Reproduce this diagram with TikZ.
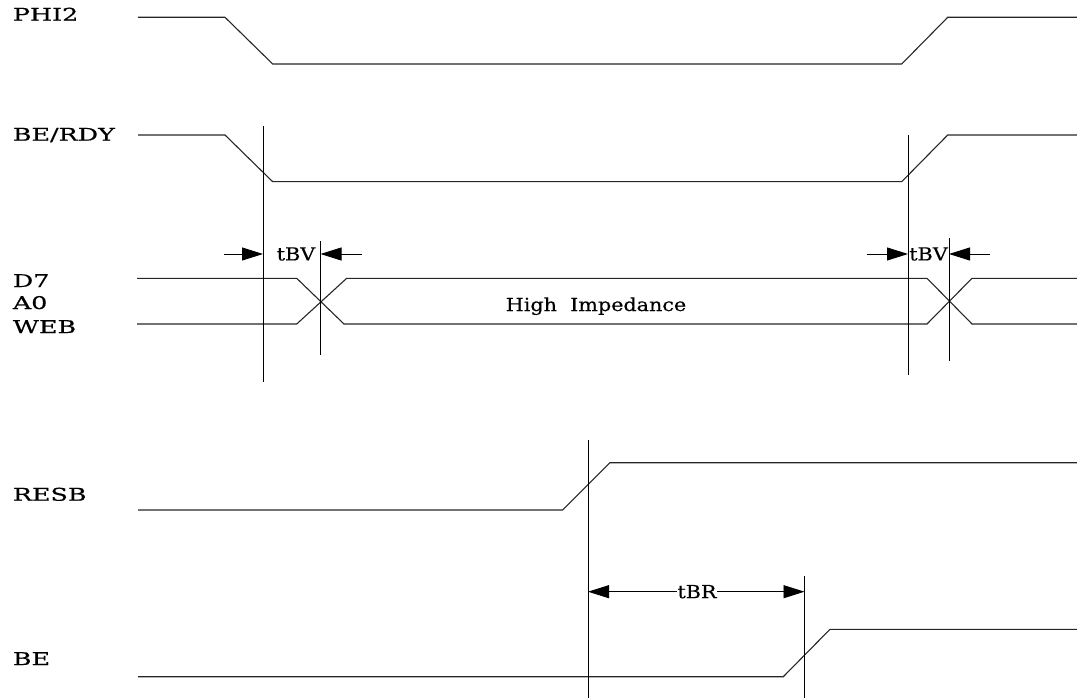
\documentclass[tikz,border=0pt]{standalone}
\usepackage{fontspec}
\usetikzlibrary{arrows.meta}
\newfontfamily\labfont{DejaVu Serif}[FakeStretch=1.45,FakeBold=0.6]
\newfontfamily\txtfont{DejaVu Serif}[FakeStretch=1.15,FakeBold=0.4]
\begin{document}
\begin{tikzpicture}[x=1pt,y=-1pt,
  sig/.style={line width=1.1pt,black!85},
  guide/.style={line width=0.9pt,black},
  dim/.style={line width=0.9pt,black,-{Triangle[length=21pt,width=13pt]}},
  siglabel/.style={anchor=base west,inner sep=0pt,font=\labfont\fontsize{17.5}{20}\selectfont},
  txt/.style={inner sep=0pt,font=\txtfont\fontsize{18}{21}\selectfont}]
\useasboundingbox (0,0) rectangle (1077,698);
% labels
\node[siglabel] (lphi) at (12.7,20.7) {PHI2};
\node[siglabel] (lbe) at (12.7,140.7) {BE/RDY};
\node[siglabel] (ld7) at (12.7,287) {D7};
\node[siglabel] (la0) at (12.7,309) {A0};
\node[siglabel] (lweb) at (12.7,333) {WEB};
\node[siglabel] (lres) at (12.7,500.7) {RESB};
\node[siglabel] (lbe2) at (12.7,665) {BE};
% PHI2
\draw[sig] (138,17.3) -- (225,17.3) -- (272.7,64) -- (901.7,64) -- (947.7,17.3) -- (1077,17.3);
% BE/RDY
\draw[sig] (138,135) -- (225,135) -- (272.7,181.7) -- (901.7,181.7) -- (947.7,135) -- (1077,135);
% data bus
\draw[sig] (137,278.3) -- (296.7,278.3) -- (344,324) -- (927,324) -- (972,278.3) -- (1077,278.3);
\draw[sig] (137,324) -- (296.7,324) -- (346.7,278.3) -- (927,278.3) -- (972,324) -- (1077,324);
\node[txt,anchor=base] (hz) at (596,311) {High\ \ Impedance};
% RESB
\draw[sig] (138,510) -- (562.7,510) -- (610,462.7) -- (1077,462.7);
% BE
\draw[sig] (138,676.7) -- (783.3,676.7) -- (830,629.3) -- (1077,629.3);
% guide lines
\coordinate (v1t) at (263,126); \coordinate (v1b) at (263,382);
\coordinate (v2t) at (320.5,241); \coordinate (v2b) at (320.5,355);
\coordinate (v3t) at (908,135); \coordinate (v3b) at (908,375);
\coordinate (v4t) at (949,238); \coordinate (v4b) at (949,361);
\coordinate (v5t) at (588,440); \coordinate (v5b) at (588,698);
\coordinate (v6t) at (804.5,575.7); \coordinate (v6b) at (804.5,698);
\foreach \a/\b in {v1t/v1b,v2t/v2b,v3t/v3b,v4t/v4b,v5t/v5b,v6t/v6b}
  \draw[guide] (\a) -- (\b);
% tBV left
\coordinate (a1) at (224,254); \coordinate (a1e) at (263,254);
\coordinate (a2) at (362,254); \coordinate (a2e) at (320.5,254);
\draw[dim] (a1) -- (a1e);
\draw[dim] (a2) -- (a2e);
\node[txt] (tbv1) at (296,254) {tBV};
% tBV right
\coordinate (a3) at (866.7,254); \coordinate (a3e) at (908,254);
\coordinate (a4) at (990,254); \coordinate (a4e) at (949,254);
\draw[dim] (a3) -- (a3e);
\draw[dim] (a4) -- (a4e);
\node[txt] (tbv2) at (928.5,254) {tBV};
% tBR
\coordinate (b1) at (588,591.7); \coordinate (b2) at (804.5,591.7);
\draw[dim,{Triangle[length=21pt,width=13pt]}-{Triangle[length=21pt,width=13pt]}] (b1) -- (b2);
\node[txt,fill=white,inner xsep=0.5pt] (tbr) at (697,591.7) {tBR};
\end{tikzpicture}
\end{document}
